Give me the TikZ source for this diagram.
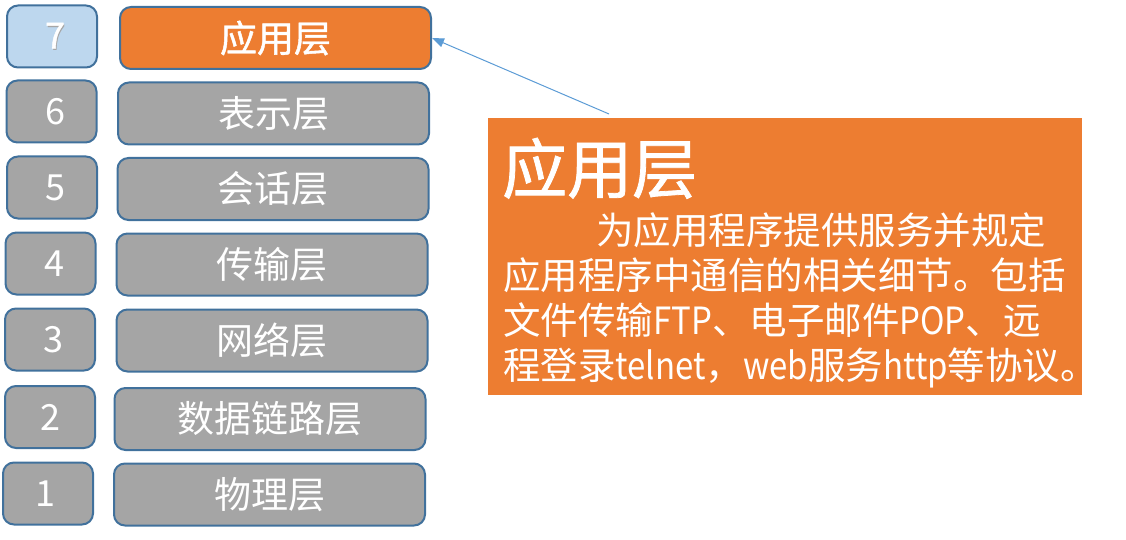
\documentclass[tikz,border=0pt]{standalone}
\usepackage{fontspec}
\setmainfont{Noto Sans CJK SC}
\newfontfamily\semibold[FakeBold=1.2]{Noto Sans CJK SC}
\newfontfamily\latn[FakeStretch=0.88]{Noto Sans CJK SC}
\usetikzlibrary{arrows.meta,calc}
\definecolor{lborange}{HTML}{ED7D31}
\definecolor{lbgray}{HTML}{A5A5A5}
\definecolor{lbblue}{HTML}{BDD7EE}
\definecolor{lbedge}{HTML}{41719C}
\definecolor{lbarrow}{HTML}{5B9BD5}
\newcommand{\lt}[1]{{\latn #1}}
\newcommand{\dg}[2]{\hspace*{#1pt}#2}
\newcommand{\shadowseven}{\makebox[0pt][l]{\hspace*{1.8pt}\raisebox{-1.8pt}{\textcolor{black!35}{\fontsize{36}{40}\selectfont 7}}}{\semibold 7}}
\tikzset{
  numbox/.style={draw=lbedge, line width=2pt, rounded corners=11pt, fill=lbgray,
    minimum width=90pt, minimum height=62pt, inner sep=0pt, text=white,
    font=\fontsize{36}{40}\selectfont},
  layerbox/.style={draw=lbedge, line width=2pt, rounded corners=11pt, fill=lbgray,
    minimum width=311pt, minimum height=62pt, inner sep=0pt, text=white,
    font=\fontsize{37}{42}\selectfont},
  bodyline/.style={anchor=base west, inner sep=0pt, text=white,
    font=\fontsize{37.5}{45}\selectfont},
  pointer/.style={draw=lbarrow, line width=1pt,
    -{Triangle[length=12pt,width=9pt]}}
}
\begin{document}
\begin{tikzpicture}[x=1pt,y=-1pt]
\useasboundingbox (0,0) rectangle (1126,540);
% number boxes
\node[numbox, fill=lbblue] (n7) at (52,36.5) {\dg{6}{\shadowseven}};
\node[numbox] (n6) at (51.5,111.5) {\dg{7}{6}};
\node[numbox] (n5) at (52,187.5) {\dg{7}{5}};
\node[numbox] (n4) at (50.5,263.5) {\dg{7}{4}};
\node[numbox] (n3) at (50,339.5) {\dg{6}{3}};
\node[numbox] (n2) at (50,417) {\dg{1}{2}};
\node[numbox] (n1) at (48,493.5) {\dg{-6}{1}};
% layer boxes
\node[layerbox, fill=lborange, font=\fontsize{37}{42}\semibold] (l7) at (275.5,38) {应用层};
\node[layerbox] (l6) at (273.5,113.5) {表示层};
\node[layerbox] (l5) at (273,189) {会话层};
\node[layerbox] (l4) at (272,264.5) {传输层};
\node[layerbox] (l3) at (272,340.5) {网络层};
\node[layerbox] (l2) at (270,419) {数据链路层};
\node[layerbox] (l1) at (269.5,494.5) {物理层};
% callout
\node[fill=lborange, minimum width=594pt, minimum height=277pt, inner sep=0pt] (callout) at (785,256.5) {};
\node[anchor=base west, inner sep=0pt, text=white, font=\fontsize{65}{70}\semibold] (ctitle) at (502,193) {应用层};
\node[bodyline] (cl1) at (596,244) {为应用程序提供服务并规定};
\node[bodyline] (cl2) at (503,289) {应用程序中通信的相关细节。包括};
\node[bodyline] (cl3) at (503,334) {文件传输\lt{FTP}、电子邮件\lt{POP}、远};
\node[bodyline] (cl4) at (503,379) {程登录\lt{telnet}，\lt{web}服务\lt{http}等协议。};
% pointer
\coordinate (pstart) at (609,114);
\draw[pointer] (pstart) -- (l7.east);
\end{tikzpicture}
\end{document}
